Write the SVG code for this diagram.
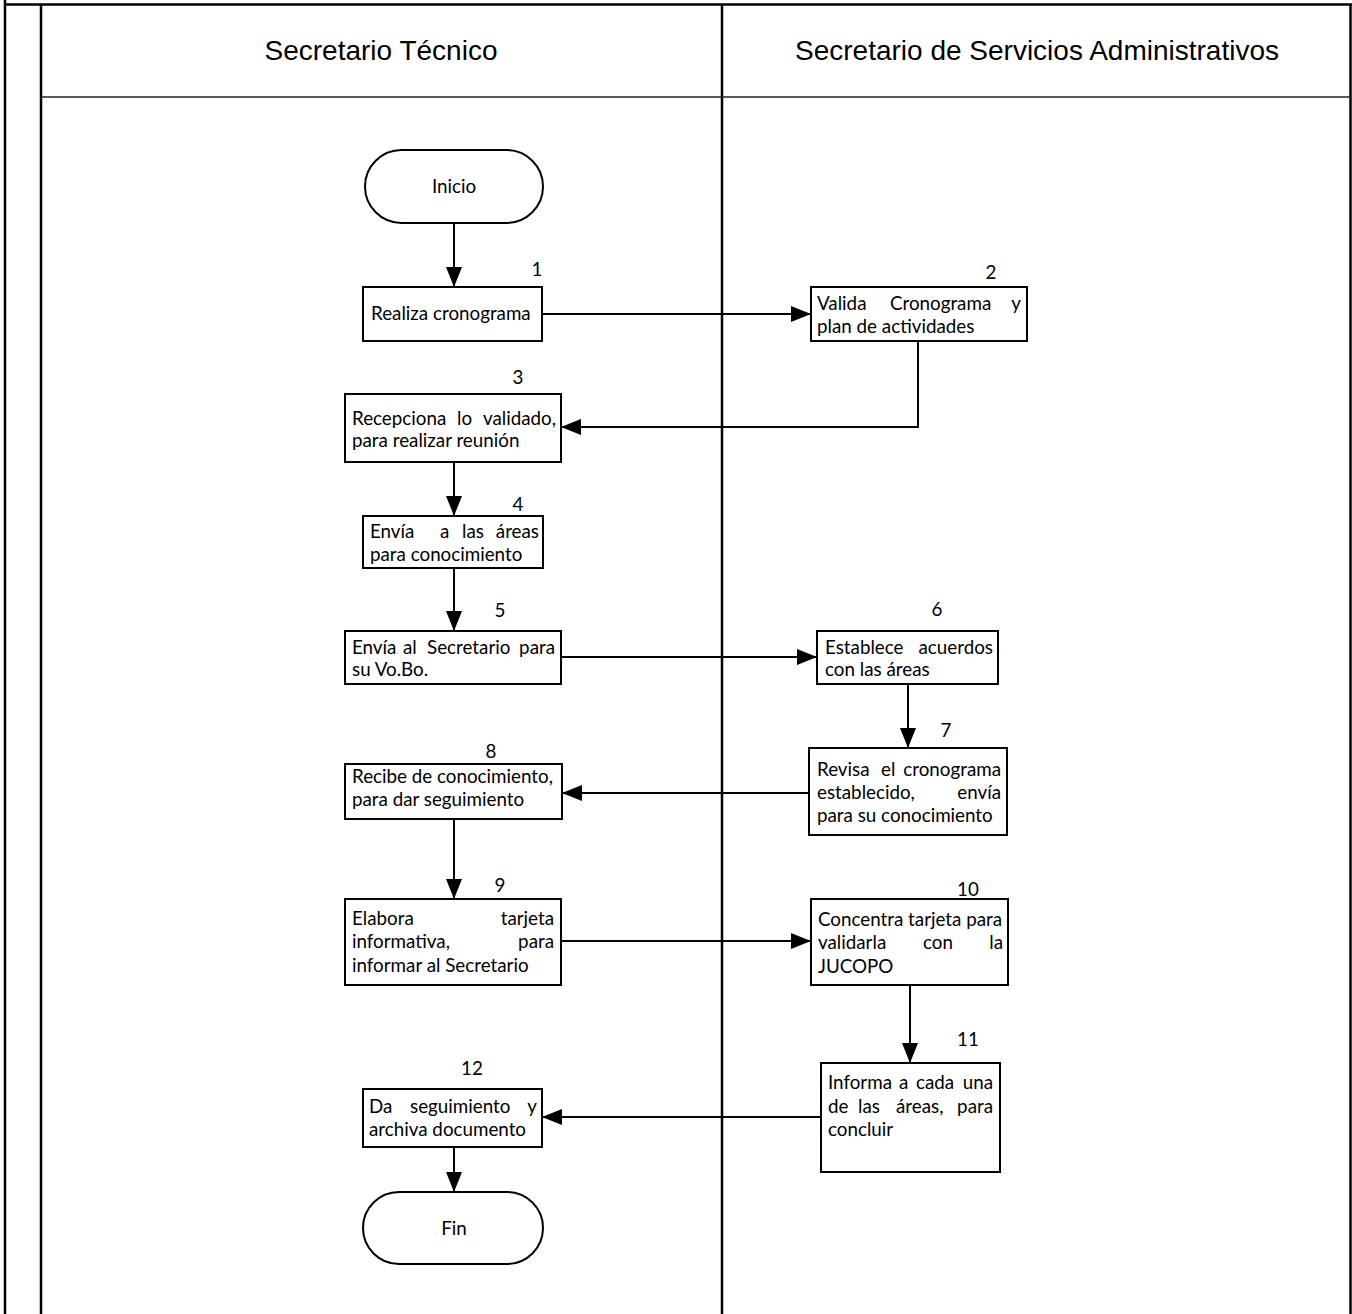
<svg xmlns="http://www.w3.org/2000/svg" width="1352" height="1314" viewBox="0 0 1352 1314">
  <defs>
    <marker id="arrow" markerUnits="userSpaceOnUse" markerWidth="20" markerHeight="16" refX="20" refY="8" orient="auto">
      <path d="M0,0 L20,8 L0,16 Z" fill="#000"/>
    </marker>
    <style>
      .frame { stroke: #000; stroke-width: 2.5; fill: none; }
      .thin { stroke: #222; stroke-width: 1.6; fill: none; }
      .box { fill: #fff; stroke: #000; stroke-width: 2; }
      .conn { stroke: #000; stroke-width: 2; fill: none; marker-end: url(#arrow); }
      .lane { font-family: "Liberation Sans", Arial, sans-serif; font-size: 28px; fill: #000; text-anchor: middle; }
      .t { font-family: Lato, "Liberation Sans", sans-serif; font-size: 18.8px; fill: #000; }
      .num { font-family: Lato, "Liberation Sans", sans-serif; font-size: 18.8px; fill: #000; text-anchor: middle; }
      .c { text-anchor: middle; }
      .e { text-anchor: end; }
    </style>
  </defs>

  <rect width="1352" height="1314" fill="#fff"/>

  <!-- swimlane frame -->
  <g id="frame">
    <line class="frame" x1="5" y1="0" x2="5" y2="1314"/>
    <line class="frame" x1="5" y1="4.5" x2="1352" y2="4.5"/>
    <line class="frame" x1="41" y1="4.5" x2="41" y2="1314"/>
    <line class="frame" x1="1350.5" y1="4.5" x2="1350.5" y2="1314"/>
    <line class="frame" x1="722" y1="4.5" x2="722" y2="1314"/>
    <line class="thin" x1="41" y1="97" x2="1351" y2="97"/>
    <text class="lane" x="381" y="60">Secretario Técnico</text>
    <text class="lane" x="1037" y="60">Secretario de Servicios Administrativos</text>
  </g>

  <!-- connectors -->
  <g id="connectors">
    <line class="conn" x1="454" y1="223" x2="454" y2="287"/>
    <line class="conn" x1="542" y1="314" x2="811" y2="314"/>
    <path class="conn" d="M918,341 V427 H561"/>
    <line class="conn" x1="454" y1="462" x2="454" y2="516"/>
    <line class="conn" x1="454" y1="568" x2="454" y2="631"/>
    <line class="conn" x1="561" y1="657" x2="817" y2="657"/>
    <line class="conn" x1="908" y1="684" x2="908" y2="748"/>
    <line class="conn" x1="809" y1="793" x2="562" y2="793"/>
    <line class="conn" x1="454" y1="819" x2="454" y2="899"/>
    <line class="conn" x1="561" y1="941" x2="811" y2="941"/>
    <line class="conn" x1="910" y1="985" x2="910" y2="1063"/>
    <line class="conn" x1="821" y1="1117" x2="542" y2="1117"/>
    <line class="conn" x1="454" y1="1147" x2="454" y2="1192"/>
  </g>

  <g id="inicio">
    <rect class="box" x="365" y="150" width="178" height="73" rx="36.5"/>
    <text class="t c" x="454" y="193">Inicio</text>
  </g>

  <g id="step1">
    <rect class="box" x="363" y="287" width="179" height="54"/>
    <text class="num" x="537" y="276">1</text>
    <text class="t" x="371" y="320">Realiza cronograma</text>
  </g>

  <g id="step2">
    <rect class="box" x="811" y="287" width="216" height="54"/>
    <text class="num" x="991" y="279">2</text>
    <text class="t" y="310"><tspan x="817">Valida</tspan><tspan x="890">Cronograma</tspan><tspan class="e" x="1021">y</tspan></text>
    <text class="t" x="817" y="333">plan de actividades</text>
  </g>

  <g id="step3">
    <rect class="box" x="345" y="394" width="216" height="68"/>
    <text class="num" x="518" y="384">3</text>
    <text class="t" y="425"><tspan x="352">Recepciona</tspan><tspan x="457">lo</tspan><tspan class="e" x="556">validado,</tspan></text>
    <text class="t" x="352" y="447">para realizar reunión</text>
  </g>

  <g id="step4">
    <rect class="box" x="363" y="516" width="180" height="52"/>
    <text class="num" x="518" y="511">4</text>
    <text class="t" y="538"><tspan x="370">Envía</tspan><tspan x="440">a</tspan><tspan x="462">las</tspan><tspan class="e" x="539">áreas</tspan></text>
    <text class="t" x="370" y="561">para conocimiento</text>
  </g>

  <g id="step5">
    <rect class="box" x="345" y="631" width="216" height="53"/>
    <text class="num" x="500" y="617">5</text>
    <text class="t" y="654"><tspan x="352">Envía</tspan><tspan x="403">al</tspan><tspan x="427">Secretario</tspan><tspan class="e" x="555">para</tspan></text>
    <text class="t" x="352" y="676">su Vo.Bo.</text>
  </g>

  <g id="step6">
    <rect class="box" x="817" y="631" width="181" height="53"/>
    <text class="num" x="937" y="616">6</text>
    <text class="t" y="654"><tspan x="825">Establece</tspan><tspan class="e" x="993">acuerdos</tspan></text>
    <text class="t" x="825" y="676">con las áreas</text>
  </g>

  <g id="step7">
    <rect class="box" x="809" y="748" width="198" height="87"/>
    <text class="num" x="946" y="737">7</text>
    <text class="t" y="776"><tspan x="817">Revisa</tspan><tspan x="881">el</tspan><tspan class="e" x="1001">cronograma</tspan></text>
    <text class="t" y="799"><tspan x="817">establecido,</tspan><tspan class="e" x="1001">envía</tspan></text>
    <text class="t" x="817" y="822">para su conocimiento</text>
  </g>

  <g id="step8">
    <rect class="box" x="345" y="764" width="217" height="55"/>
    <text class="num" x="491" y="758">8</text>
    <text class="t" x="352" y="783">Recibe de conocimiento,</text>
    <text class="t" x="352" y="806">para dar seguimiento</text>
  </g>

  <g id="step9">
    <rect class="box" x="345" y="899" width="216" height="86"/>
    <text class="num" x="500" y="892">9</text>
    <text class="t" y="925"><tspan x="352">Elabora</tspan><tspan class="e" x="554">tarjeta</tspan></text>
    <text class="t" y="948"><tspan x="352">informativa,</tspan><tspan class="e" x="554">para</tspan></text>
    <text class="t" x="352" y="972">informar al Secretario</text>
  </g>

  <g id="step10">
    <rect class="box" x="811" y="899" width="197" height="86"/>
    <text class="num" x="968" y="896">10</text>
    <text class="t" x="818" y="926">Concentra tarjeta para</text>
    <text class="t" y="949"><tspan x="818">validarla</tspan><tspan x="923">con</tspan><tspan class="e" x="1003">la</tspan></text>
    <text class="t" x="818" y="973">JUCOPO</text>
  </g>

  <g id="step11">
    <rect class="box" x="821" y="1063" width="179" height="109"/>
    <text class="num" x="968" y="1046">11</text>
    <text class="t" y="1089"><tspan x="828">Informa</tspan><tspan x="899">a</tspan><tspan x="916">cada</tspan><tspan class="e" x="993">una</tspan></text>
    <text class="t" y="1113"><tspan x="828">de</tspan><tspan x="858">las</tspan><tspan x="896">áreas,</tspan><tspan class="e" x="993">para</tspan></text>
    <text class="t" x="828" y="1136">concluir</text>
  </g>

  <g id="step12">
    <rect class="box" x="363" y="1089" width="179" height="58"/>
    <text class="num" x="472" y="1075">12</text>
    <text class="t" y="1113"><tspan x="369">Da</tspan><tspan x="410">seguimiento</tspan><tspan class="e" x="537">y</tspan></text>
    <text class="t" x="369" y="1136">archiva documento</text>
  </g>

  <g id="fin">
    <rect class="box" x="363" y="1192" width="180" height="72" rx="36"/>
    <text class="t c" x="454" y="1235">Fin</text>
  </g>
</svg>
